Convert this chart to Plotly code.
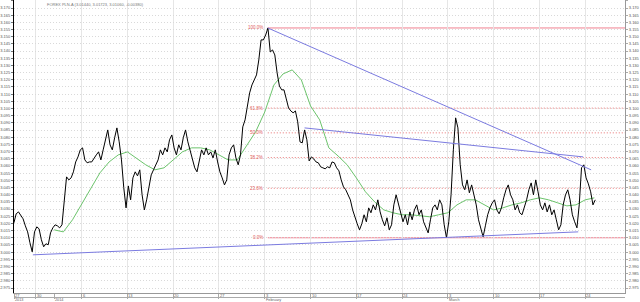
import plotly.graph_objects as go

# ---------------- data ----------------
title_text = "FOREX PLN-A (3.01440, 3.01723, 3.01060, -0.00380)"

# price sampled every quarter trading day, starting 2.4 trading days before Mon 30 Dec 2013
price_start_day = -2.4
price_step = 0.25
price = [
    3.0204, 3.0267, 3.0280, 3.0260, 3.0232, 3.0183, 3.0141, 3.0065, 3.0002, 3.0141,
    3.0176, 3.0162, 3.0086, 3.0037, 3.0058, 3.0051, 3.0134, 3.0169, 3.0190, 3.0183,
    3.0169, 3.0190, 3.0364, 3.0524, 3.0503, 3.0517, 3.0559, 3.0628, 3.0663, 3.0712,
    3.0726, 3.0642, 3.0622, 3.0628, 3.0628, 3.0656, 3.0677, 3.0698, 3.0642, 3.0712,
    3.0782, 3.0851, 3.0747, 3.0712, 3.0796, 3.0865, 3.0768, 3.0642, 3.0448, 3.0308,
    3.0461, 3.0364, 3.0517, 3.0559, 3.0531, 3.0573, 3.0399, 3.0294, 3.0364, 3.0468,
    3.0538, 3.0573, 3.0608, 3.0642, 3.0712, 3.0677, 3.0726, 3.0698, 3.0782, 3.0816,
    3.0726, 3.0677, 3.0747, 3.0712, 3.0796, 3.0851, 3.0768, 3.0712, 3.0656, 3.0587,
    3.0559, 3.0642, 3.0712, 3.0677, 3.0726, 3.0677, 3.0698, 3.0656, 3.0712, 3.0628,
    3.0559, 3.0517, 3.0468, 3.0503, 3.0677, 3.0726, 3.0747, 3.0656, 3.0608, 3.0677,
    3.0872, 3.0921, 3.1004, 3.1109, 3.1164, 3.1199, 3.1234, 3.1338, 3.1478, 3.1478,
    3.1512, 3.1561, 3.1394, 3.1408, 3.1373, 3.1248, 3.1157, 3.1130, 3.1130, 3.1067,
    3.1004, 3.0983, 3.0970, 3.0983, 3.0907, 3.0768, 3.0761, 3.0851, 3.0782, 3.0635,
    3.0663, 3.0649, 3.0628, 3.0622, 3.0594, 3.0587, 3.0580, 3.0594, 3.0587, 3.0628,
    3.0622, 3.0587, 3.0566, 3.0503, 3.0454, 3.0434, 3.0399, 3.0364, 3.0294, 3.0239,
    3.0197, 3.0155, 3.0197, 3.0260, 3.0211, 3.0308, 3.0274, 3.0329, 3.0294, 3.0364,
    3.0280, 3.0225, 3.0183, 3.0239, 3.0155, 3.0190, 3.0329, 3.0399, 3.0329, 3.0260,
    3.0211, 3.0260, 3.0190, 3.0280, 3.0225, 3.0294, 3.0329, 3.0260, 3.0294, 3.0211,
    3.0169, 3.0134, 3.0225, 3.0308, 3.0329, 3.0294, 3.0364, 3.0329, 3.0190, 3.0100,
    3.0211, 3.0399, 3.0712, 3.0935, 3.0865, 3.0608, 3.0468, 3.0434, 3.0503, 3.0413,
    3.0468, 3.0399, 3.0329, 3.0225, 3.0155, 3.0106, 3.0183, 3.0260, 3.0308, 3.0343,
    3.0364, 3.0294, 3.0267, 3.0308, 3.0378, 3.0434, 3.0468, 3.0399, 3.0364, 3.0294,
    3.0329, 3.0274, 3.0260, 3.0308, 3.0364, 3.0434, 3.0482, 3.0399, 3.0503, 3.0420,
    3.0329, 3.0294, 3.0343, 3.0280, 3.0329, 3.0260, 3.0294, 3.0225, 3.0155, 3.0190,
    3.0329, 3.0399, 3.0434, 3.0364, 3.0260, 3.0211, 3.0169, 3.0329, 3.0587, 3.0608,
    3.0517, 3.0475, 3.0420, 3.0329, 3.0364,
]

# moving average, one value per trading day
ma_days = list(range(2, 62))
ma_values = [
    3.0155, 3.0141, 3.0225, 3.0336, 3.0448, 3.0552, 3.0628, 3.0677, 3.0698, 3.0656,
    3.0608, 3.0573, 3.0587, 3.0642, 3.0698, 3.0726, 3.0726, 3.0712, 3.0677, 3.0642,
    3.0642, 3.0740, 3.0837, 3.0976, 3.1164, 3.1241, 3.1269, 3.1199, 3.1018, 3.0921,
    3.0726, 3.0670, 3.0608, 3.0517, 3.0420, 3.0350, 3.0294, 3.0274, 3.0260, 3.0260,
    3.0253, 3.0246, 3.0260, 3.0274, 3.0329, 3.0364, 3.0364, 3.0329, 3.0294, 3.0308,
    3.0329, 3.0343, 3.0364, 3.0378, 3.0364, 3.0343, 3.0322, 3.0329, 3.0364, 3.0378,
]

# trend lines: (start day, end day) and (start price, end price)
trend_days = [[25.33, 60.65], [29.35, 59.78], [-0.33, 59.24]]
trend_prices = [[3.1561, 3.0573], [3.0865, 3.0663], [2.9981, 3.0141]]

# Fibonacci retracement
fib_high = 3.1561
fib_low = 3.0100
fib_start_day = 25.33
fib_ratios = [1.0, 0.618, 0.5, 0.382, 0.236, 0.0]
fib_labels = ["100.0%", "61.8%", "50.0%", "38.2%", "23.6%", "0.0%"]

# x axis labels (trading-day positions)
week_days = [0, 5, 10, 15, 20, 25, 30, 35, 40, 45, 50, 55, 60]
day_tick_pos = [-2.39] + week_days
day_tick_text = ["27", "30", "6", "13", "20", "27", "3", "10", "17", "24", "3", "10", "17", "24"]
period_pos = [-2.39, 2, 25, 45]
period_text = ["2013", "2014", "February", "March"]

x_range = [-2.39, 64.35]
y_range = [2.97152, 3.17557]

# ---------------- figure ----------------
price_x = [price_start_day + i * price_step for i in range(len(price))]

fig = go.Figure()
fig.add_trace(go.Scatter(x=ma_days, y=ma_values, mode="lines",
                         line=dict(color="#6cc46c", width=1), hoverinfo="skip"))
fig.add_trace(go.Scatter(x=price_x, y=price, mode="lines",
                         line=dict(color="black", width=1), hoverinfo="skip"))
for d, p in zip(trend_days, trend_prices):
    fig.add_trace(go.Scatter(x=d, y=p, mode="lines", yaxis="y2",
                             line=dict(color="#7b7be0", width=1), hoverinfo="skip"))

for r, lab in zip(fib_ratios, fib_labels):
    lvl = fib_low + r * (fib_high - fib_low)
    solid = r in (0.0, 1.0)
    fig.add_shape(type="line", xref="x", yref="y", x0=fib_start_day, x1=x_range[1],
                  y0=lvl, y1=lvl, layer="below",
                  line=dict(color="#f08090" if solid else "#e87070", width=1,
                            dash="solid" if solid else "1px,2px"))
    fig.add_annotation(x=fib_start_day, y=lvl, xref="x", yref="y", text=lab,
                       showarrow=False, xanchor="right", yanchor="middle", xshift=-3,
                       font=dict(size=4.5, color="#e05a5a", family="Liberation Sans"))

for pos, txt in zip(day_tick_pos, day_tick_text):
    fig.add_annotation(x=pos, y=0, xref="x", yref="paper", text=txt, showarrow=False,
                       xanchor="left", yanchor="middle", yshift=-2.5, xshift=0,
                       borderpad=0,
                       font=dict(size=4, color="#666", family="Liberation Sans"))
for pos, txt in zip(period_pos, period_text):
    fig.add_annotation(x=pos, y=0, xref="x", yref="paper", text=txt, showarrow=False,
                       xanchor="left", yanchor="middle", yshift=-6.5, xshift=0,
                       borderpad=0,
                       font=dict(size=3.8, color="#666", family="Liberation Sans"))

fig.add_shape(type="line", xref="paper", yref="paper", x0=0, x1=1,
              y0=-4.5 / 293, y1=-4.5 / 293, line=dict(color="#aaa", width=1))

fig.add_annotation(x=(45 - 13) / 614, y=1, xref="paper", yref="paper", text=title_text,
                   showarrow=False, xanchor="left", yanchor="top", yshift=-1,
                   borderpad=0, font=dict(size=4, color="#777", family="Liberation Sans"))

ytick = dict(tickmode="linear", tick0=2.975, dtick=0.005, tickformat=".3f",
             tickfont=dict(size=4, color="#555", family="Liberation Sans"))

fig.update_layout(
    width=640, height=302,
    margin=dict(l=13, r=13, t=0, b=9),
    plot_bgcolor="white", paper_bgcolor="white",
    showlegend=False,
    xaxis=dict(range=x_range, tickmode="array", tickvals=week_days, showticklabels=False,
               ticks="outside", ticklen=5, tickcolor="#aaa", showgrid=True,
               gridcolor="#e6e6e6", gridwidth=1, showline=True, linecolor="#999",
               zeroline=False,
               minor=dict(tickvals=[-2.39, 2], ticks="outside", ticklen=5,
                          tickcolor="#aaa", showgrid=False)),
    yaxis=dict(range=y_range, side="left", showgrid=True, gridcolor="#d9d9d9",
               griddash="1px,2px", showline=True, linecolor="black", linewidth=1,
               ticks="outside", ticklen=2, tickcolor="#777", zeroline=False, **ytick),
    yaxis2=dict(range=y_range, overlaying="y", side="right", showgrid=False,
                showline=True, linecolor="#999", ticks="outside", ticklen=2,
                tickcolor="#aaa", zeroline=False, **ytick),
)

fig.write_html("out.html")
